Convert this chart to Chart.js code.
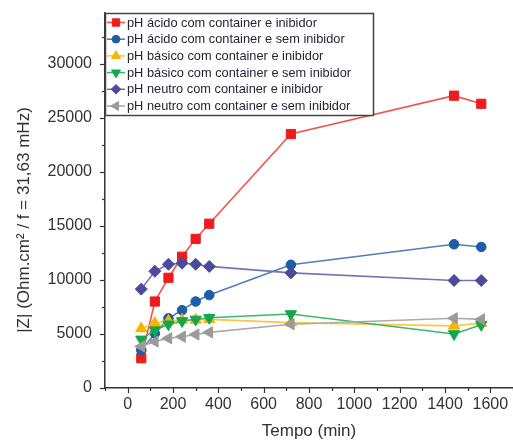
<!DOCTYPE html>
<html>
<head>
<meta charset="utf-8">
<style>
  html, body { margin: 0; padding: 0; background: #ffffff; }
  #wrap { width: 513px; height: 446px; }
</style>
<script src="https://cdn.jsdelivr.net/npm/chart.js@4/dist/chart.umd.min.js"></script>
</head>
<body>
<div id="wrap"><canvas id="chart" width="513" height="446"></canvas></div>
<script>
// Measurement times (min)
const tempos = [60, 120, 180, 240, 300, 360, 720, 1440, 1560];

// |Z| at f = 31,63 mHz (Ohm.cm²)
const acidoComInibidor   = [2750, 8000, 10200, 12150, 13800, 15200, 23500, 27050, 26300];
const acidoSemInibidor   = [3500, 5050, 6450, 7200, 8000, 8600, 11400, 13300, 13050];
const basicoComInibidor  = [5500, 6000, 6200, 6300, 6300, 6350, 6050, 5750, 6000];
const basicoSemInibidor  = [4500, 5350, 5900, 6200, 6350, 6500, 6850, 5000, 5850];
const neutroComInibidor  = [9150, 10800, 11450, 11550, 11450, 11250, 10650, 9950, 9950];
const neutroSemInibidor  = [3850, 4300, 4600, 4750, 4950, 5150, 5900, 6450, 6350];

const seriesLabels = [
  'pH ácido com container e inibidor',
  'pH ácido com container e sem inibidor',
  'pH básico com container e inibidor',
  'pH básico com container e sem inibidor',
  'pH neutro com container e inibidor',
  'pH neutro com container e sem inibidor'
];

// Axis tick labels
const yTickLabels = [0, 5000, 10000, 15000, 20000, 25000, 30000];
const xTickLabels = [0, 200, 400, 600, 800, 1000, 1200, 1400, 1600];

const xTitle = 'Tempo (min)';
const yTitle = '|Z| (Ohm.cm² / f = 31,63 mHz)';

const FONT = '"Liberation Sans", Arial, sans-serif';
const AXIS_COLOR = '#333333';

function pts(values) {
  return values.map((v, i) => ({ x: tempos[i], y: v }));
}

const styles = [
  { line: '#f2544c', fill: '#ee1d1d', point: 'rect', radius: 6.5, rot: 0 },
  { line: '#4f7db8', fill: '#1d5ea6', point: 'circle', radius: 4.8, rot: 0 },
  { line: '#f8c84a', fill: '#f6b400', point: 'triangle', radius: 6.5, rot: 0 },
  { line: '#3db66a', fill: '#13a64a', point: 'triangle', radius: 6.5, rot: 180 },
  { line: '#7474b2', fill: '#4b4b9c', point: 'rectRot', radius: 6, rot: 0 },
  { line: '#ababab', fill: '#9a9a9a', point: 'triangle', radius: 6.5, rot: -90 }
];

const seriesValues = [acidoComInibidor, acidoSemInibidor, basicoComInibidor,
                      basicoSemInibidor, neutroComInibidor, neutroSemInibidor];

const datasets = seriesValues.map((vals, i) => ({
  label: seriesLabels[i],
  data: pts(vals),
  borderColor: styles[i].line,
  backgroundColor: styles[i].fill,
  pointBackgroundColor: styles[i].fill,
  pointBorderColor: styles[i].fill,
  pointStyle: styles[i].point,
  pointRotation: styles[i].rot,
  pointRadius: styles[i].radius,
  pointBorderWidth: 1,
  borderWidth: 1.6,
  tension: 0,
  order: 6 - i
}));

// Draws outward tick marks (major and minor) on both axes
const tickMarks = {
  id: 'tickMarks',
  afterDraw(chart) {
    const ctx = chart.ctx;
    const xs = chart.scales.x, ys = chart.scales.y;
    ctx.save();
    ctx.strokeStyle = AXIS_COLOR;
    ctx.lineWidth = 1.2;
    xs.ticks.forEach(t => {
      const px = Math.round(xs.getPixelForValue(t.value)) + 0.5;
      const major = t.value % 200 === 0;
      ctx.beginPath();
      ctx.moveTo(px, xs.top);
      ctx.lineTo(px, xs.top + (major ? 5 : 3));
      ctx.stroke();
    });
    ys.ticks.forEach(t => {
      const py = Math.round(ys.getPixelForValue(t.value)) + 0.5;
      const major = t.value % 5000 === 0;
      ctx.beginPath();
      ctx.moveTo(ys.right, py);
      ctx.lineTo(ys.right - (major ? 5 : 3), py);
      ctx.stroke();
    });
    ctx.restore();
  }
};

// Rotated y-axis title
const yAxisTitle = {
  id: 'yAxisTitle',
  afterDraw(chart) {
    const ctx = chart.ctx;
    ctx.save();
    ctx.translate(24, 220);
    ctx.rotate(-Math.PI / 2);
    ctx.font = '17px ' + FONT;
    ctx.fillStyle = AXIS_COLOR;
    ctx.textAlign = 'center';
    ctx.textBaseline = 'middle';
    ctx.fillText(yTitle, 0, 0);
    ctx.restore();
  }
};

// Boxed legend with line + marker samples, at the top-left of the plot
const boxLegend = {
  id: 'boxLegend',
  afterDraw(chart) {
    const ctx = chart.ctx;
    const area = chart.chartArea;
    const left = area.left, top = area.top;
    const w = 268, h = 102, rowH = 16.7, firstRow = 9.5;
    ctx.save();
    ctx.fillStyle = '#ffffff';
    ctx.fillRect(left, top, w, h);
    ctx.beginPath();
    ctx.rect(left, top, w, h);
    ctx.clip();
    chart.data.datasets.forEach((ds, i) => {
      const cy = top + firstRow + i * rowH;
      ctx.strokeStyle = ds.borderColor;
      ctx.lineWidth = 1.6;
      ctx.beginPath();
      ctx.moveTo(left + 2, cy);
      ctx.lineTo(left + 20, cy);
      ctx.stroke();
      ctx.fillStyle = ds.pointBackgroundColor;
      ctx.strokeStyle = ds.pointBorderColor;
      ctx.lineWidth = 1;
      Chart.helpers.drawPoint(ctx, {
        pointStyle: ds.pointStyle,
        rotation: ds.pointRotation,
        radius: ds.pointRadius * 0.8,
        borderWidth: 1
      }, left + 11, cy);
      ctx.fillStyle = '#25253a';
      ctx.font = '500 12.8px ' + FONT;
      ctx.textAlign = 'left';
      ctx.textBaseline = 'middle';
      ctx.fillText(ds.label, left + 22, cy + 0.5);
    });
    ctx.restore();
    ctx.save();
    ctx.strokeStyle = '#444444';
    ctx.lineWidth = 1.5;
    ctx.strokeRect(left + 0.5, top + 0.5, w, h);
    ctx.restore();
  }
};

new Chart(document.getElementById('chart'), {
  type: 'line',
  data: { datasets },
  options: {
    responsive: false,
    animation: false,
    layout: { autoPadding: false, padding: { top: 13, left: 0, right: 0, bottom: 0 } },
    plugins: {
      legend: { display: false },
      tooltip: { enabled: false }
    },
    scales: {
      x: {
        type: 'linear',
        min: -100,
        max: 1700,
        afterBuildTicks(scale) {
          const t = [];
          for (let v = -100; v <= 1700; v += 100) t.push({ value: v });
          scale.ticks = t;
        },
        afterFit(scale) {
          scale.height = 58;
          scale.paddingLeft = 0;
          scale.paddingRight = 0;
        },
        grid: { display: true, drawOnChartArea: false, drawTicks: true, tickLength: 5, color: 'transparent', tickColor: 'transparent' },
        border: { display: true, color: AXIS_COLOR, width: 1.5 },
        ticks: {
          autoSkip: false,
          maxRotation: 0,
          padding: 2,
          color: AXIS_COLOR,
          font: { family: FONT, size: 16 },
          callback: v => (xTickLabels.includes(v) ? String(v) : '')
        },
        title: {
          display: true,
          text: xTitle,
          color: AXIS_COLOR,
          font: { family: FONT, size: 17 },
          padding: { top: 0, bottom: 4 }
        }
      },
      y: {
        type: 'linear',
        min: 0,
        max: 34700,
        afterBuildTicks(scale) {
          const t = [];
          for (let v = 0; v <= 32500; v += 2500) t.push({ value: v });
          scale.ticks = t;
        },
        afterFit(scale) {
          scale.width = 105;
          scale.paddingTop = 0;
          scale.paddingBottom = 0;
        },
        grid: { display: true, drawOnChartArea: false, drawTicks: true, tickLength: 5, color: 'transparent', tickColor: 'transparent' },
        border: { display: true, color: AXIS_COLOR, width: 1.5 },
        ticks: {
          autoSkip: false,
          padding: 8,
          color: AXIS_COLOR,
          font: { family: FONT, size: 16 },
          callback: v => (yTickLabels.includes(v) ? String(v) : '')
        }
      }
    }
  },
  plugins: [tickMarks, yAxisTitle, boxLegend]
});
</script>
</body>
</html>
